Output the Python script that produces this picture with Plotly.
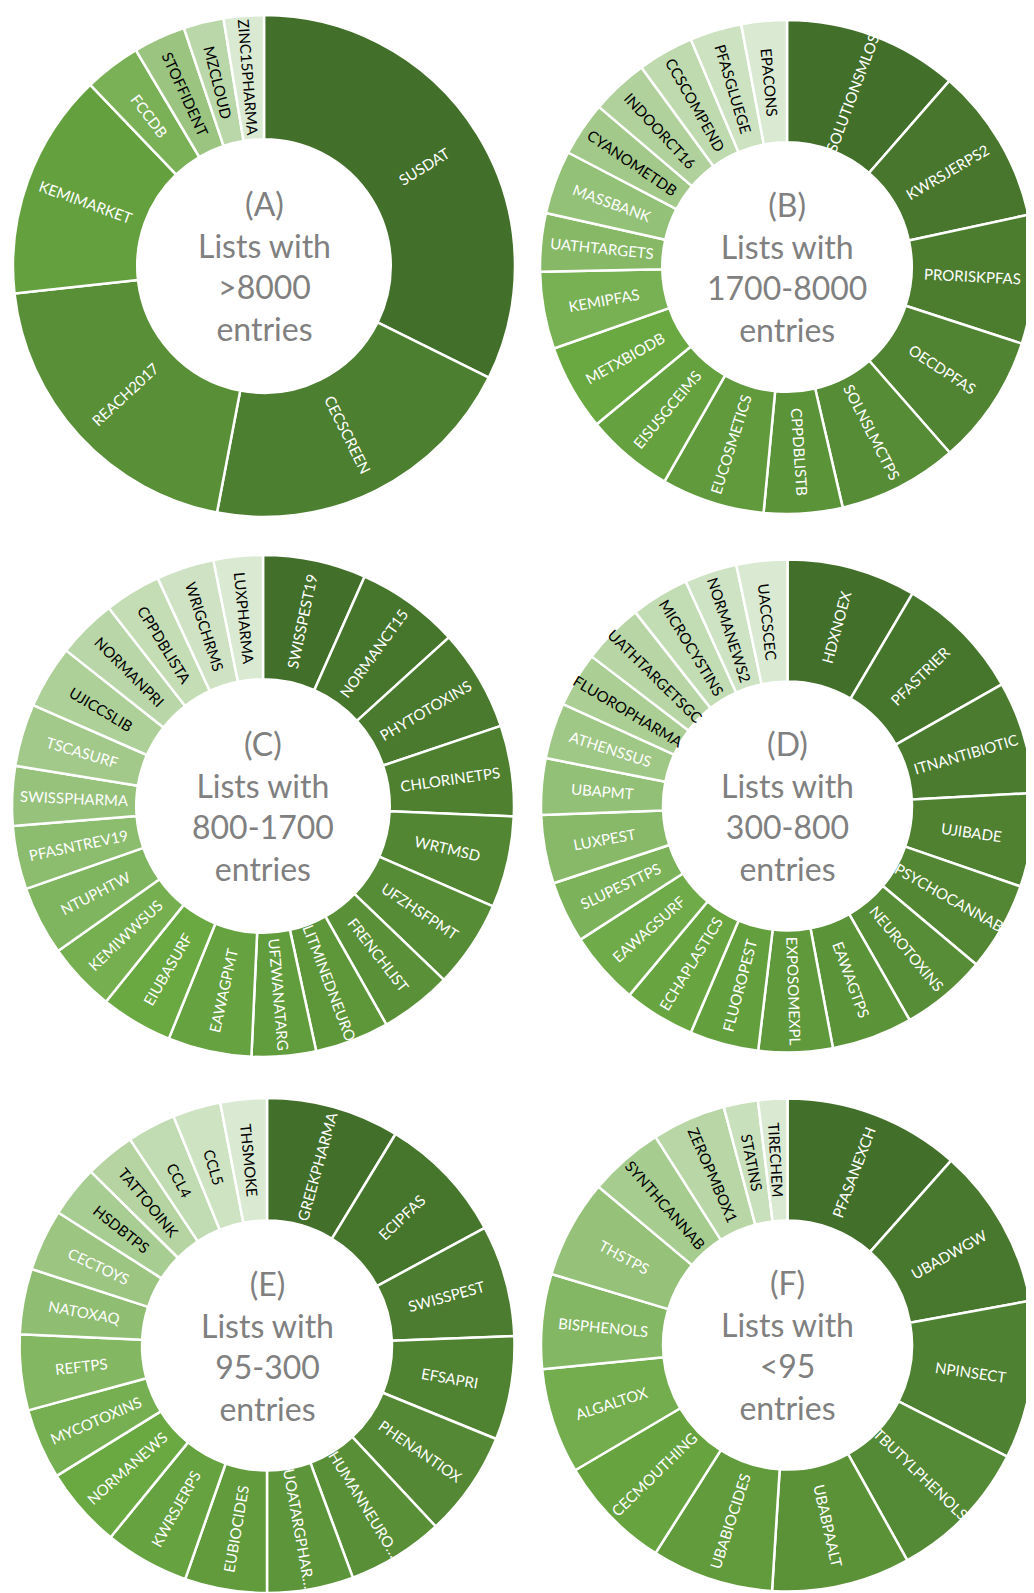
import math
import plotly.graph_objects as go

# ---------------- data (slice sizes, relative units) ----------------
a_labels = ["SUSDAT", "CECSCREEN", "REACH2017", "KEMIMARKET", "FCCDB", "STOFFIDENT", "MZCLOUD", "ZINC15PHARMA"]
a_values = [116.4, 74.4, 72.9, 52.5, 13.1, 12.1, 9.3, 9.3]

b_labels = ["SOLUTIONSMLOS", "KWRSJERPS2", "PRORISKPFAS", "OECDPFAS", "SOLNSLMCTPS", "CPPDBLISTB",
            "EUCOSMETICS", "EISUSGCEIMS", "METXBIODB", "KEMIPFAS", "UATHTARGETS", "MASSBANK",
            "CYANOMETDB", "INDOORCT16", "CCSCOMPEND", "PFASGLUEGE", "EPACONS"]
b_values = [41.1, 36.7, 30.3, 30.7, 28.2, 18.5, 24.3, 20.7, 20.3, 18.2, 13.7, 15.0, 12.8, 13.5, 13.2, 12.2, 10.7]

c_labels = ["SWISSPEST19", "NORMANCT15", "PHYTOTOXINS", "CHLORINETPS", "WRTMSD", "UFZHSFPMT",
            "FRENCHLIST", "LITMINEDNEURO", "UFZWANATARG", "EAWAGPMT", "EIUBASURF", "KEMIWWSUS",
            "NTUPHTW", "PFASNTREV19", "SWISSPHARMA", "TSCASURF", "UJICCSLIB", "NORMANPRI",
            "CPPDBLISTA", "WRIGCHRMS", "LUXPHARMA"]
c_values = [23.9, 23.9, 23.6, 21.0, 21.2, 20.3, 16.7, 17.2, 14.9, 19.4, 16.7, 16.0, 16.0, 14.7,
            13.8, 14.5, 14.6, 13.8, 13.1, 13.4, 11.4]

d_labels = ["HDXNOEX", "PFASTRIER", "ITNANTIBIOTIC", "UJIBADE", "PSYCHOCANNAB", "NEUROTOXINS",
            "EAWAGTPS", "EXPOSOMEXPL", "FLUOROPEST", "ECHAPLASTICS", "EAWAGSURF", "SLUPESTTPS",
            "LUXPEST", "UBAPMT", "ATHENSSUS", "FLUOROPHARMA", "UATHTARGETSGC", "MICROCYSTINS",
            "NORMANEWS2", "UACCSCEC"]
d_values = [30.5, 30.0, 26.6, 22.1, 21.0, 20.3, 19.1, 17.5, 16.3, 16.8, 17.3, 14.6, 16.2, 13.3,
            13.2, 13.0, 14.5, 13.8, 12.4, 12.0]

e_labels = ["GREEKPHARMA", "ECIPFAS", "SWISSPEST", "EFSAPRI", "PHENANTIOX", "HUMANNEURO…",
            "UOATARGPHAR…", "EUBIOCIDES", "KWRSJERPS", "NORMANEWS", "MYCOTOXINS", "REFTPS",
            "NATOXAQ", "CECTOYS", "HSDBTPS", "TATTOOINK", "CCL4", "CCL5", "THSMOKE"]
e_values = [31.3, 30.3, 26.2, 24.4, 24.8, 22.7, 20.3, 19.3, 19.9, 19.0, 16.6, 17.8, 15.4, 14.5,
            12.1, 11.8, 11.4, 11.3, 10.9]

f_labels = ["PFASANEXCH", "UBADWGW", "NPINSECT", "TBUTYLPHENOLS", "UBABPAALT", "UBABIOCIDES",
            "CECMOUTHING", "ALGALTOX", "BISPHENOLS", "THSTPS", "SYNTHCANNAB", "ZEROPMBOX1",
            "STATINS", "TIRECHEM"]
f_values = [41.6, 38.1, 37.3, 34.0, 32.7, 28.8, 27.1, 24.9, 22.4, 23.2, 17.7, 17.4, 8.1, 6.9]

titles = ["(A)<br>Lists with<br>&gt;8000<br>entries",
          "(B)<br>Lists with<br>1700-8000<br>entries",
          "(C)<br>Lists with<br>800-1700<br>entries",
          "(D)<br>Lists with<br>300-800<br>entries",
          "(E)<br>Lists with<br>95-300<br>entries",
          "(F)<br>Lists with<br>&lt;95<br>entries"]

# ---------------- style ----------------
PAGE_W, PAGE_H = 1034, 1593
OFF = 8                      # default body margin of the html page
W, H = PAGE_W - OFF, PAGE_H - OFF
HOLE = 0.505
LABEL_FONT = dict(family="Lato", size=15)
# page-pixel centre (x, y from top) and outer radius of each ring
geom = [(264, 266, 251), (792, 267, 252),
        (263, 806, 251), (792, 806, 251),
        (267, 1348, 250), (792, 1348, 251)]
dark_labels = [3, 5, 5, 5, 5, 4]   # number of lightest slices with black text


def ramp(n):
    dark, mid, light = (66, 111, 41), (106, 168, 66), (218, 234, 210)
    out = []
    for i in range(n):
        t = i / (n - 1)
        if t <= 0.5:
            a, b, u = dark, mid, t / 0.5
        else:
            a, b, u = mid, light, (t - 0.5) / 0.5
        out.append("rgb(%d,%d,%d)" % tuple(round(a[k] + (b[k] - a[k]) * u) for k in range(3)))
    return out


datasets = [(a_labels, a_values), (b_labels, b_values), (c_labels, c_values),
            (d_labels, d_values), (e_labels, e_values), (f_labels, f_values)]

fig = go.Figure()
annotations = []
for (labels, values), (pcx, pcy, pr), ndark, title in zip(datasets, geom, dark_labels, titles):
    n = len(labels)
    colors = ramp(n)
    tcolors = ["white"] * (n - ndark) + ["black"] * ndark
    cx, cy = pcx - OFF, pcy - OFF
    x0, x1 = max(cx - pr, 0), min(cx + pr, W)
    y0, y1 = max(cy - pr, 0), min(cy + pr, H)   # from top
    fig.add_trace(go.Pie(
        labels=labels, values=values, sort=False, direction="clockwise", rotation=0,
        hole=HOLE,
        marker=dict(colors=colors, line=dict(color="white", width=2.5)),
        textinfo="none",
        domain=dict(x=[x0 / W, x1 / W], y=[1 - y1 / H, 1 - y0 / H]),
        showlegend=False, hoverinfo="label+value",
    ))
    # actual pie geometry as plotly lays it out
    rcx, rcy = (x0 + x1) / 2, (y0 + y1) / 2
    r = min(x1 - x0, y1 - y0) / 2
    rmid = r * (1 + HOLE) / 2
    annotations.append(dict(
        x=rcx / W, y=1 - rcy / H, xref="paper", yref="paper",
        xanchor="center", yanchor="middle",
        text=title, showarrow=False, align="center",
        font=dict(family="Lato", size=32, color="#808080"),
    ))
    # radial slice labels, placed at each slice's mid angle
    total = sum(values)
    cum = 0.0
    for lab, v, tc in zip(labels, values, tcolors):
        theta = (cum + v / 2) / total * 360.0
        cum += v
        th = math.radians(theta)
        px = rcx + rmid * math.sin(th)
        py = rcy - rmid * math.cos(th)
        ang = theta - 90 if theta < 180 else theta - 270
        annotations.append(dict(
            x=px / W, y=1 - py / H, xref="paper", yref="paper",
            xanchor="center", yanchor="middle", showarrow=False,
            text=lab, textangle=ang,
            font=dict(color=tc, **LABEL_FONT),
        ))

fig.update_layout(
    width=W, height=H, margin=dict(l=0, r=0, t=0, b=0),
    paper_bgcolor="white", plot_bgcolor="white",
    annotations=annotations,
)

fig.write_html("out.html")
